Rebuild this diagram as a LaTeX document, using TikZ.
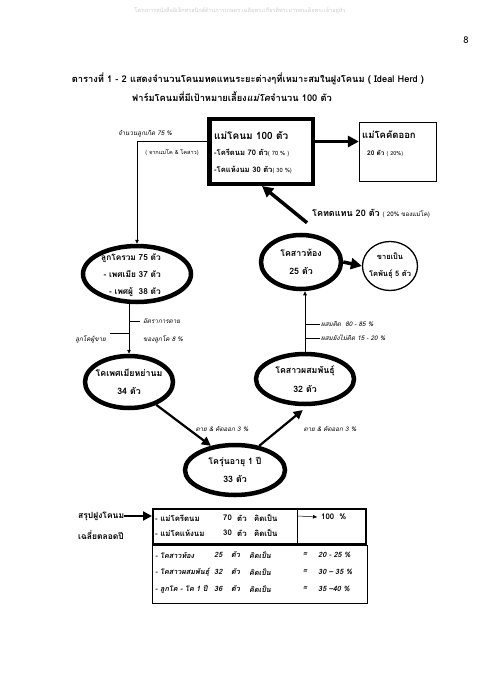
\documentclass[tikz,border=0pt]{standalone}
\usepackage{fontspec}
\setmainfont[Script=Thai]{Loma}
\usetikzlibrary{shapes.geometric, arrows.meta, positioning}

\begin{document}
\begin{tikzpicture}[x=1pt,y=-1pt,
  title/.style={font=\fontsize{9.3}{11}\selectfont\bfseries, inner sep=0pt},
  herd/.style={ellipse, draw, line width=4.5pt, inner sep=0pt},
  sale/.style={ellipse, draw, line width=1.3pt, inner sep=0pt},
  herdtext/.style={font=\fontsize{8.8}{18.5}\selectfont\bfseries, align=center, inner sep=0pt},
  boxtext/.style={font=\fontsize{7.6}{8}\selectfont\bfseries, anchor=west, inner sep=0pt},
  note/.style={font=\fontsize{6.3}{7}\selectfont\itshape, inner sep=0pt},
  flow/.style={-{Triangle[length=11pt,width=11pt]}, line width=3.5pt},
  flowb/.style={-{Triangle[length=9pt,width=9pt]}, line width=2.2pt},
  link/.style={-{Triangle[length=4pt,width=3.5pt]}, line width=0.8pt},
  tabrow/.style={font=\fontsize{7.8}{8}\selectfont\bfseries, anchor=west, inner sep=0pt},
  tabit/.style={font=\fontsize{7.3}{8}\selectfont\bfseries\itshape, anchor=west, inner sep=0pt}]
\useasboundingbox (0,0) rectangle (480,679);

% page header and title
\node[gray!40, font=\fontsize{5.5}{6}\selectfont] (hdr) at (240,11) {โครงการหนังสืออิเล็กทรอนิกส์ด้านการเกษตร เฉลิมพระเกียรติพระบาทสมเด็จพระเจ้าอยู่หัว};
\node[font=\fontsize{9.5}{10}\selectfont] (pg) at (466,40) {8};
\node[title] (ttl1) at (248,79) {ตารางที่ 1 - 2 แสดงจำนวนโคนมทดแทนระยะต่างๆที่เหมาะสมในฝูงโคนม ( Ideal Herd )};
\node[title] (ttl2) at (232,97) {ฟาร์มโคนมที่มีเป้าหมายเลี้ยง\textit{แม่โค}จำนวน 100 ตัว};

% milking cows and culled cows
\node[draw, line width=4.5pt, minimum width=103.5, minimum height=64.5] (mom) at (261,151.5) {};
\node[boxtext, font=\fontsize{10}{10}\selectfont\bfseries] (mom-a) at (214,135) {แม่โคนม 100 ตัว};
\node[boxtext] (mom-b) at (214,153) {-โครีดนม 70 ตัว{\mdseries\fontsize{5.8}{6}\selectfont( 70 \% )}};
\node[boxtext] (mom-c) at (214,170) {-โคแห้งนม 30 ตัว{\mdseries\fontsize{5.8}{6}\selectfont( 30 \%)}};
\node[draw, line width=1.2pt, minimum width=77, minimum height=59] (cull) at (398,152) {};
\node[boxtext, font=\fontsize{9.5}{10}\selectfont\bfseries] (cull-a) at (362,135) {แม่โคคัดออก};
\node[boxtext, font=\fontsize{6.5}{7}\selectfont\bfseries] (cull-b) at (367,153) {20 ตัว {\mdseries\fontsize{5.5}{6}\selectfont( 20\%)}};
\draw[flow] ([yshift=10pt]mom.east) -- ([yshift=10pt]mom.east -| cull.west);

% calves
\node[herd, minimum width=108, minimum height=56] (calf) at (137,274) {};
\node[herdtext, align=right, font=\fontsize{8.3}{17}\selectfont\bfseries] (calf-t) at (131,275) {ลูกโครวม 75 ตัว\\- เพศเมีย 37 ตัว\\- เพศผู้\ \ 38 ตัว};
\draw[link] ([yshift=10pt]mom.west) -| (calf.north);
\node[note] (born) at (145,134) {จำนวนลูกเกิด 75 \%};
\node[note, font=\fontsize{5.6}{6}\selectfont] (born-src) at (172,153) {( จากแม่โค \& โคสาว)};

% weaned heifers
\node[herd, minimum width=88, minimum height=52] (heifer) at (129,382) {};
\node[herdtext] (heifer-t) at (heifer) {โคเพศเมียหย่านม\\34 ตัว};
\draw[link] (heifer.north |- calf.south) -- (heifer.north);
\coordinate (die) at (129,321);
\draw[line width=0.6pt] (die) -- ++(11,0);
\node[note, anchor=west] (die-t) at (143,321) {อัตราการตาย};
\node[note, anchor=west] (die-t2) at (143,339) {ของลูกโค 8 \%};
\coordinate (bull) at (129,333);
\draw[line width=0.6pt] (bull) -- ++(-19,0);
\node[note, anchor=east] (bull-t) at (106,339) {ลูกโคผู้ขาย};

% yearlings, bred heifers, pregnant heifers
\node[herd, minimum width=100, minimum height=50] (yearling) at (235,470) {};
\node[herdtext] (yearling-t) at (yearling) {โครุ่นอายุ 1 ปี\\33 ตัว};
\node[herd, minimum width=98, minimum height=50] (bred) at (305,379) {};
\node[herdtext] (bred-t) at (bred) {โคสาวผสมพันธุ์\\32 ตัว};
\node[herd, minimum width=80, minimum height=54] (preg) at (301,262) {};
\node[herdtext] (preg-t) at (preg) {โคสาวท้อง\\25 ตัว};
\node[sale, minimum width=55, minimum height=49] (sell) at (390,266) {};
\node[herdtext, font=\fontsize{7.5}{17}\selectfont\bfseries] (sell-t) at (sell) {ขายเป็น\\โคพันธุ์ 5 ตัว};

\draw[flowb] (heifer.-40) -- (yearling.135);
\node[note] (loss1) at (222,429) {ตาย \& คัดออก 3 \%};
\draw[flowb, shorten >=6pt] (yearling.45) -- (bred.-85);
\node[note] (loss2) at (330,429) {ตาย \& คัดออก 3 \%};
\draw[link] (bred.north) -- (bred.north |- preg.south);
\coordinate (ok) at (305,324);
\draw[line width=0.6pt] (ok) -- ++(15,0);
\node[note, anchor=west] (ok-t) at (321,324) {ผสมติด\ \ 80 - 85 \%};
\coordinate (nok) at (305,338);
\draw[line width=0.6pt] (nok) -- ++(15,0);
\node[note, anchor=west] (nok-t) at (321,338) {ผสมยังไม่ติด 15 - 20 \%};
\draw[flow] (preg.east) -- (sell.west);
\draw[flow] ([xshift=6pt,yshift=10pt]preg.north) -- ([xshift=1pt]mom.south);
\node[font=\fontsize{9}{9}\selectfont\bfseries, anchor=west, inner sep=0pt] (repl) at (312,214) {โคทดแทน 20 ตัว {\mdseries\fontsize{6.2}{6}\selectfont( 20\% ของแม่โค)}};

% yearly summary table
\node[tabrow, font=\fontsize{8.5}{9}\selectfont\bfseries] (sum1) at (78,516) {สรุปฝูงโคนม};
\node[tabrow, font=\fontsize{8.5}{9}\selectfont\bfseries] (sum2) at (78,535) {เฉลี่ยตลอดปี};
\draw[line width=0.6pt] (152,545) rectangle (367,603);
\node[draw, line width=2pt, minimum width=213, minimum height=35, inner sep=0pt] (tabtop) at (259.5,526.5) {};
\draw[line width=0.6pt] (297,509) -- (297,544);
\draw[flowb, line width=2pt] (sum1.east) -- (sum1.east -| tabtop.west);
\coordinate (pct) at (298,516);
\draw[link, line width=0.5pt] (pct) -- ++(19,1);
\node[tabrow] (pct-t) at (321,517) {100\ \ \%};
\foreach \y/\name/\n in {518/- แม่โครีดนม/70, 533/- แม่โคแห้งนม/30}{
  \node[tabrow] (up-\n-a) at (155,\y) {\name};
  \node[tabrow] (up-\n-b) at (223,\y) {\n};
  \node[tabrow] (up-\n-c) at (237,\y) {ตัว};
  \node[tabrow] (up-\n-d) at (254,\y) {คิดเป็น};
}
\foreach \y/\name/\n/\pc in {555/- โคสาวท้อง/25/20 - 25 \%, 572/- โคสาวผสมพันธุ์/32/30 – 35 \%, 589/- ลูกโค - โค 1 ปี/36/35 –40 \%}{
  \node[tabit] (lo-\n-a) at (155,\y) {\name};
  \node[tabit] (lo-\n-b) at (214,\y) {\n};
  \node[tabit] (lo-\n-c) at (231,\y) {ตัว};
  \node[tabit] (lo-\n-d) at (249,\y) {คิดเป็น};
  \node[tabit, anchor=center] (lo-\n-e) at (305,\y) {=};
  \node[tabit] (lo-\n-f) at (318,\y) {\pc};
}
\end{tikzpicture}
\end{document}
